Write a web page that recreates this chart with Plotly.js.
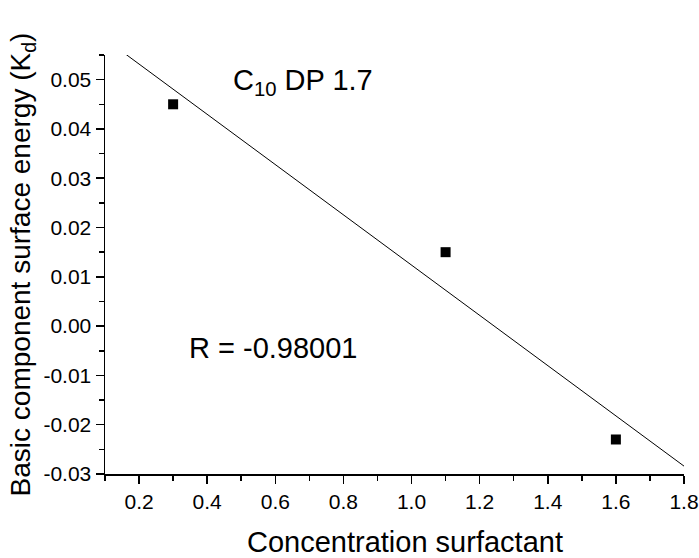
<!DOCTYPE html>
<html>
<head>
<meta charset="utf-8">
<script src="https://cdn.plot.ly/plotly-3.0.1.min.js"></script>
<style>html,body{margin:0;padding:0;background:#fff;}#chart{width:699px;height:558px;}</style>
</head>
<body>
<div id="chart"></div>
<script>
// Measured points
const concentration = [0.3, 1.1, 1.6];
const kd = [0.045, 0.015, -0.023];
// Fitted line end points
const fitX = [0.162, 1.8];
const fitY = [0.0551, -0.0284];
// Tick labels
const xTickVals = [0.2, 0.4, 0.6, 0.8, 1.0, 1.2, 1.4, 1.6, 1.8];
const xTickText = ["0.2", "0.4", "0.6", "0.8", "1.0", "1.2", "1.4", "1.6", "1.8"];
const yTickVals = [-0.03, -0.02, -0.01, 0.0, 0.01, 0.02, 0.03, 0.04, 0.05];
const yTickText = ["-0.03", "-0.02", "-0.01", "0.00", "0.01", "0.02", "0.03", "0.04", "0.05"];

const FONT = "Liberation Sans, Arial, Helvetica, sans-serif";

const traces = [
  {
    x: fitX, y: fitY, mode: "lines", type: "scatter",
    line: {color: "black", width: 1}, hoverinfo: "skip", showlegend: false, cliponaxis: true
  },
  {
    x: concentration, y: kd, mode: "markers", type: "scatter",
    marker: {symbol: "square", size: 10, color: "black"}, showlegend: false
  }
];

const layout = {
  width: 699, height: 558,
  margin: {l: 105, r: 15, t: 55, b: 84},
  paper_bgcolor: "white", plot_bgcolor: "white",
  font: {family: FONT, color: "black", size: 20},
  showlegend: false,
  xaxis: {
    range: [0.1, 1.8], showgrid: false, zeroline: false,
    showline: true, linecolor: "black", linewidth: 1.5,
    ticks: "outside", ticklen: 8, tickwidth: 1.5, tickcolor: "black",
    tickvals: xTickVals, ticktext: xTickText,
    tickfont: {family: FONT, size: 21, color: "black"},
    minor: {dtick: 0.1, tick0: 0, ticks: "outside", ticklen: 5, tickwidth: 1.5, tickcolor: "black", showgrid: false},
    automargin: false
  },
  yaxis: {
    range: [-0.03, 0.055], showgrid: false, zeroline: false,
    showline: true, linecolor: "black", linewidth: 1.5,
    ticks: "outside", ticklen: 8, tickwidth: 1.5, tickcolor: "black",
    tickvals: yTickVals, ticktext: yTickText,
    tickfont: {family: FONT, size: 21, color: "black"},
    minor: {dtick: 0.005, tick0: 0, ticks: "outside", ticklen: 5, tickwidth: 1.5, tickcolor: "black", showgrid: false},
    title: {text: "Basic component surface energy (K<sub>d</sub>)", font: {family: FONT, size: 28, color: "black"}, standoff: 4},
    automargin: false
  },
  annotations: [
    {
      x: 0.518, y: -0.163, xref: "paper", yref: "paper", xanchor: "center", yanchor: "middle",
      text: "Concentration surfactant", showarrow: false,
      font: {family: FONT, size: 29, color: "black"}
    },
    {
      x: 0.469, y: 0.0495, xref: "x", yref: "y", xanchor: "left", yanchor: "middle",
      text: "C<sub>10</sub> DP 1.7", showarrow: false,
      font: {family: FONT, size: 29, color: "black"}
    },
    {
      x: 0.34, y: -0.0045, xref: "x", yref: "y", xanchor: "left", yanchor: "middle",
      text: "R = -0.98001", showarrow: false,
      font: {family: FONT, size: 29, color: "black"}
    }
  ]
};

Plotly.newPlot("chart", traces, layout, {displayModeBar: false, staticPlot: true});
</script>
</body>
</html>
